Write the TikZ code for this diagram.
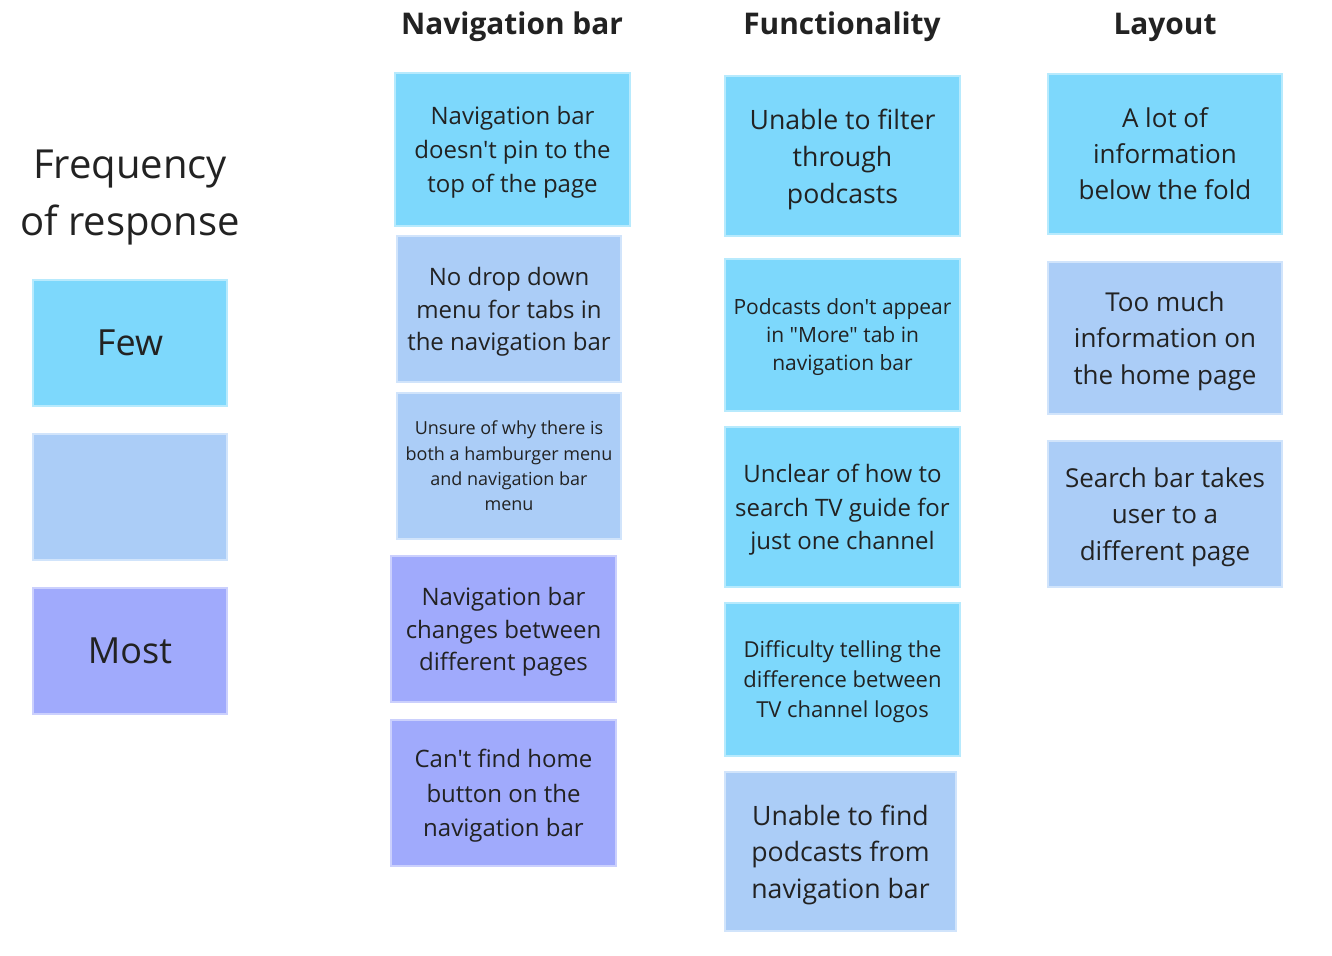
\documentclass[tikz,border=0pt]{standalone}
\usepackage{fontspec}
\setmainfont{Open Sans}[Ligatures=TeXOff]
\definecolor{fewc}{HTML}{7DD8FC}
\definecolor{midc}{HTML}{ABCDF7}
\definecolor{mostc}{HTML}{A0AAFC}
\definecolor{ink}{HTML}{222222}
\newcommand{\fs}[2]{\fontsize{#1}{#2}\selectfont}
% \card{options}{name}{x0}{y0}{x1}{y1}{text}: a sticky note spanning the given corners
\newcommand{\card}[7]{%
  \node[#1, minimum width={(#5-#3)*0.75pt}, minimum height={(#6-#4)*0.75pt}]
    (#2) at ({(#3+#5)/2},{(#4+#6)/2}) {#7};}
\tikzset{
  card/.style={rectangle, inner sep=0pt, fill=#1, draw=#1!55!white, line width=0.8pt,
    align=center, text=ink, text depth=0pt},
  head/.style={font=\bfseries\fs{22.4}{27}, text=ink, anchor=center},
}
\begin{document}
\begin{tikzpicture}[x=0.75pt, y=-0.75pt]
\useasboundingbox (0,0) rectangle (1332,956);
\fill[white] (0,0) rectangle (1332,956);

% legend
\node[text=ink, align=center, text depth=0pt, font=\fs{30}{43}] (freq) at (130,193) {Frequency\\of response};
\card{card=fewc, font=\fs{27}{32}}{few}{33}{280}{227}{406}{Few}
\card{card=midc}{mid}{33}{434}{227}{560}{}
\card{card=mostc, font=\fs{27}{32}}{most}{33}{588}{227}{714}{Most}

% column headings
\node[head] (hnav) at (512,27) {Navigation bar};
\node[head] (hfun) at (842,27) {Functionality};
\node[head] (hlay) at (1165,27) {Layout};

% navigation bar column
\card{card=fewc, font=\fs{18}{25.5}}{n1}{395}{73}{630}{226}
  {Navigation bar\\doesn't pin to the\\top of the page}
\card{card=midc, font=\fs{18}{24.5}}{n2}{397}{236}{621}{382}
  {No drop down\\menu for tabs in\\the navigation bar}
\card{card=midc, font=\fs{13.5}{19}}{n3}{397}{393}{621}{539}
  {Unsure of why there is\\both a hamburger menu\\and navigation bar\\menu}
\card{card=mostc, font=\fs{18}{24.5}}{n4}{391}{556}{616}{702}
  {Navigation bar\\changes between\\different pages}
\card{card=mostc, font=\fs{18}{26}}{n5}{391}{720}{616}{866}
  {Can't find home\\button on the\\navigation bar}

% functionality column
\card{card=fewc, font=\fs{20}{27.75}}{f1}{725}{76}{960}{236}
  {Unable to filter\\through\\podcasts}
\card{card=fewc, font=\fs{15.75}{21}}{f2}{725}{259}{960}{411}
  {Podcasts don't appear\\in "More" tab in\\navigation bar}
\card{card=fewc, font=\fs{18}{25}}{f3}{725}{427}{960}{587}
  {Unclear of how to\\search TV guide for\\just one channel}
\card{card=fewc, font=\fs{16.5}{22.5}}{f4}{725}{603}{960}{756}
  {Difficulty telling the\\difference between\\TV channel logos}
\card{card=midc, font=\fs{20}{27.5}}{f5}{725}{772}{956}{931}
  {Unable to find\\podcasts from\\navigation bar}

% layout column
\card{card=fewc, font=\fs{19.5}{27}}{l1}{1048}{74}{1282}{234}
  {A lot of\\information\\below the fold}
\card{card=midc, font=\fs{19.5}{27.5}}{l2}{1048}{262}{1282}{414}
  {Too much\\information on\\the home page}
\card{card=midc, font=\fs{19.5}{27.5}}{l3}{1048}{441}{1282}{587}
  {Search bar takes\\user to a\\different page}
\end{tikzpicture}
\end{document}
